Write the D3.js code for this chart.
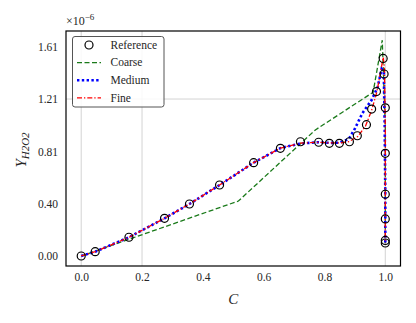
<!DOCTYPE html>
<html><head><meta charset="utf-8">
<script src="https://cdn.jsdelivr.net/npm/d3@7"></script>
<style>body{margin:0;background:#fff}svg{display:block}text{font-family:"Times New Roman","Liberation Serif",Times,serif;fill:#262626}</style>
</head><body><svg id="c" width="416" height="323"></svg>
<script>
const refC = [0, 0.046, 0.157, 0.274, 0.356, 0.455, 0.567, 0.655, 0.721, 0.781, 0.816, 0.849, 0.882, 0.908, 0.938, 0.955, 0.971, 0.993, 0.996, 1.0, 1.0, 1.0, 1.0, 1.0, 1.0];
const refY = [0, 0.033, 0.144, 0.290, 0.40, 0.546, 0.718, 0.828, 0.879, 0.875, 0.867, 0.867, 0.879, 0.925, 1.01, 1.13, 1.265, 1.52, 1.40, 1.14, 0.79, 0.475, 0.285, 0.12, 0.10];
const coarseC = [0, 0.517, 0.77, 0.96, 0.99, 1.0, 1.0];
const coarseY = [0, 0.423, 0.97, 1.26, 1.66, 1.0, 0.10];
const mediumC = [0, 0.046, 0.157, 0.274, 0.356, 0.455, 0.567, 0.655, 0.72, 0.78, 0.82, 0.85, 0.88, 0.90, 0.925, 0.955, 0.975, 0.988, 0.995, 0.998, 1.0, 1.0, 1.0];
const mediumY = [0, 0.033, 0.144, 0.29, 0.40, 0.546, 0.718, 0.83, 0.865, 0.875, 0.87, 0.872, 0.90, 0.98, 1.10, 1.2, 1.30, 1.44, 1.42, 1.0, 0.5, 0.15, 0.10];
const fineC = [0, 0.046, 0.157, 0.274, 0.356, 0.455, 0.567, 0.655, 0.72, 0.78, 0.82, 0.85, 0.88, 0.91, 0.935, 0.955, 0.972, 0.985, 0.993, 0.997, 1.0, 1.0, 1.0];
const fineY = [0, 0.033, 0.144, 0.29, 0.40, 0.546, 0.718, 0.83, 0.868, 0.875, 0.87, 0.87, 0.88, 0.92, 1.0, 1.12, 1.26, 1.42, 1.53, 1.45, 1.0, 0.5, 0.10];
const xTicks = [0, 0.2, 0.4, 0.6, 0.8, 1.0];
const xTickLabels = ["0.0", "0.2", "0.4", "0.6", "0.8", "1.0"];
const yTicks = [0, 0.4025, 0.805, 1.2075, 1.61];
const yTickLabels = ["0.00", "0.40", "0.81", "1.21", "1.61"];
const xGrid = [0, 0.2, 1.0];
const yGrid = [1.2075];

const FONT = '"Times New Roman","Liberation Serif",Times,serif';
const svg = d3.select("#c");
const L = 66, R = 400.5, T = 31, B = 266;
const x = d3.scaleLinear().domain([-0.05, 1.05]).range([L, R]);
const y = d3.scaleLinear().domain([-0.077, 1.731]).range([B, T]);

// grid
svg.append("g").selectAll("line").data(xGrid).join("line")
  .attr("x1", d => x(d)).attr("x2", d => x(d)).attr("y1", T).attr("y2", B)
  .attr("stroke", "#c8c8c8").attr("stroke-width", 0.8);
svg.append("g").selectAll("line").data(yGrid).join("line")
  .attr("y1", d => y(d)).attr("y2", d => y(d)).attr("x1", L).attr("x2", R)
  .attr("stroke", "#c8c8c8").attr("stroke-width", 0.8);

// axes (labels only)
const xAxis = d3.axisBottom(x).tickValues(xTicks).tickSize(0).tickPadding(7)
  .tickFormat((d, i) => xTickLabels[i]);
const gx = svg.append("g").attr("transform", `translate(0,${B})`).call(xAxis).attr("font-family", FONT);
gx.select(".domain").remove();
gx.selectAll("text").attr("font-size", 11.5).attr("fill", "#262626");
const yAxis = d3.axisLeft(y).tickValues(yTicks).tickSize(0).tickPadding(8)
  .tickFormat((d, i) => yTickLabels[i]);
const gy = svg.append("g").attr("transform", `translate(${L},0)`).call(yAxis).attr("font-family", FONT);
gy.select(".domain").remove();
gy.selectAll("text").attr("font-size", 11.5).attr("fill", "#262626");

svg.append("clipPath").attr("id", "cp").append("rect")
  .attr("x", L).attr("y", T).attr("width", R - L).attr("height", B - T);
const plot = svg.append("g").attr("clip-path", "url(#cp)");
const line = d3.line().x(d => x(d[0])).y(d => y(d[1]));
const zip = (a, b) => a.map((v, i) => [v, b[i]]);

plot.append("path").datum(zip(coarseC, coarseY)).attr("d", line)
  .attr("fill", "none").attr("stroke", "#1a7a1a").attr("stroke-width", 1.3).attr("stroke-dasharray", "5,2.5");
plot.append("path").datum(zip(mediumC, mediumY)).attr("d", line)
  .attr("fill", "none").attr("stroke", "#0000ff").attr("stroke-width", 2.6).attr("stroke-dasharray", "2.4,2.4");
plot.append("path").datum(zip(fineC, fineY)).attr("d", line)
  .attr("fill", "none").attr("stroke", "#ff0000").attr("stroke-width", 1.3).attr("stroke-dasharray", "5,2,1.3,2");
plot.append("g").selectAll("circle").data(zip(refC, refY)).join("circle")
  .attr("cx", d => x(d[0])).attr("cy", d => y(d[1])).attr("r", 4)
  .attr("fill", "none").attr("stroke", "#000").attr("stroke-width", 1.2);

// frame
svg.append("rect").attr("x", L).attr("y", T).attr("width", R - L).attr("height", B - T)
  .attr("fill", "none").attr("stroke", "#000").attr("stroke-width", 1.2);

// exponent
const ex = svg.append("text").attr("x", L).attr("y", 25).attr("font-size", 12);
ex.append("tspan").text("×10");
ex.append("tspan").attr("dy", -5).attr("font-size", 9).text("−6");

// axis labels
svg.append("text").attr("x", (L + R) / 2).attr("y", 304).attr("text-anchor", "middle")
  .attr("font-size", 15).attr("font-style", "italic").text("C");
const yl = svg.append("text").attr("transform", "translate(26,150) rotate(-90)").attr("text-anchor", "middle")
  .attr("font-size", 15).attr("font-style", "italic");
yl.append("tspan").text("Y");
yl.append("tspan").attr("dy", 3).attr("font-size", 11).text("H2O2");

// legend
const lg = svg.append("g");
lg.append("rect").attr("x", 72.5).attr("y", 36.5).attr("width", 91.5).attr("height", 70.5)
  .attr("rx", 2.5).attr("fill", "#fff").attr("fill-opacity", 0.85).attr("stroke", "#555").attr("stroke-width", 1);
const items = [
  {label: "Reference", type: "circle"},
  {label: "Coarse", color: "#1a7a1a", dash: "5,2.5", w: 1.3},
  {label: "Medium", color: "#0000ff", dash: "2.4,2.4", w: 2.6},
  {label: "Fine", color: "#ff0000", dash: "5,2,1.3,2", w: 1.3}
];
items.forEach((it, i) => {
  const yy = 45 + i * 17.6;
  if (it.type === "circle") {
    lg.append("circle").attr("cx", 89).attr("cy", yy).attr("r", 4).attr("fill", "none").attr("stroke", "#000").attr("stroke-width", 1.2);
  } else {
    lg.append("line").attr("x1", 77).attr("x2", 101).attr("y1", yy).attr("y2", yy)
      .attr("stroke", it.color).attr("stroke-width", it.w).attr("stroke-dasharray", it.dash);
  }
  lg.append("text").attr("x", 110.5).attr("y", yy + 3.8).attr("font-size", 11.5).text(it.label);
});
</script></body></html>
